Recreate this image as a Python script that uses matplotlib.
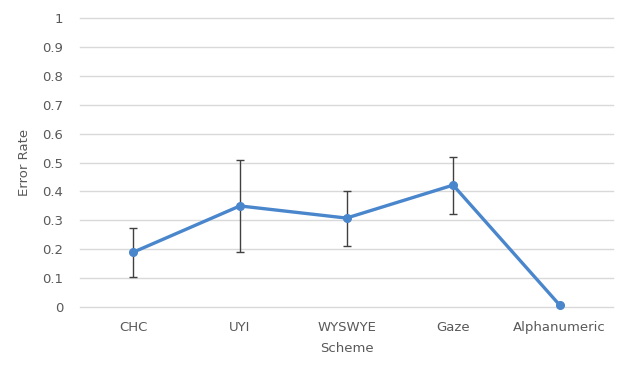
import matplotlib
matplotlib.use("Agg")
import matplotlib.pyplot as plt

categories = ["CHC", "UYI", "WYSWYE", "Gaze", "Alphanumeric"]
error_rate = [0.19, 0.35, 0.308, 0.422, 0.007]
err_upper = [0.083, 0.16, 0.095, 0.096, 0.0]
err_lower = [0.086, 0.16, 0.097, 0.10, 0.0]
yticks = [0, 0.1, 0.2, 0.3, 0.4, 0.5, 0.6, 0.7, 0.8, 0.9, 1]
ytick_labels = ["0", "0.1", "0.2", "0.3", "0.4", "0.5", "0.6", "0.7", "0.8", "0.9", "1"]

plt.rcParams['font.family'] = ['DejaVu Sans']
fig = plt.figure(figsize=(6.3, 3.75), dpi=100)
ax = fig.add_axes([0.127, 0.181, 0.846, 0.771])

x = list(range(len(categories)))
ax.errorbar(x, error_rate, yerr=[err_lower, err_upper], fmt='none',
            ecolor='#404040', elinewidth=1.0, capsize=3, capthick=1.0, zorder=2)
ax.plot(x, error_rate, color='#4a86cc', linewidth=2.4, marker='o',
        markersize=5.5, zorder=3, clip_on=False)

ax.set_xlim(-0.5, len(categories) - 0.5)
ax.set_ylim(0, 1)
ax.set_yticks(yticks)
ax.set_yticklabels(ytick_labels)
ax.set_xticks(x)
ax.set_xticklabels(categories)
ax.grid(axis='y', color='#d9d9d9', linewidth=1.0)
for gl in ax.get_ygridlines():
    gl.set_clip_on(False)
ax.set_axisbelow(True)
for s in ax.spines.values():
    s.set_visible(False)
ax.tick_params(axis='both', length=0, labelsize=9.5, colors='#595959')
ax.tick_params(axis='y', pad=12)
ax.tick_params(axis='x', pad=10)
ax.set_xlabel("Scheme", fontsize=9.5, color='#595959', labelpad=6)
ax.set_ylabel("Error Rate", fontsize=9.5, color='#595959', labelpad=8)

fig.savefig("out.png", dpi=100)
